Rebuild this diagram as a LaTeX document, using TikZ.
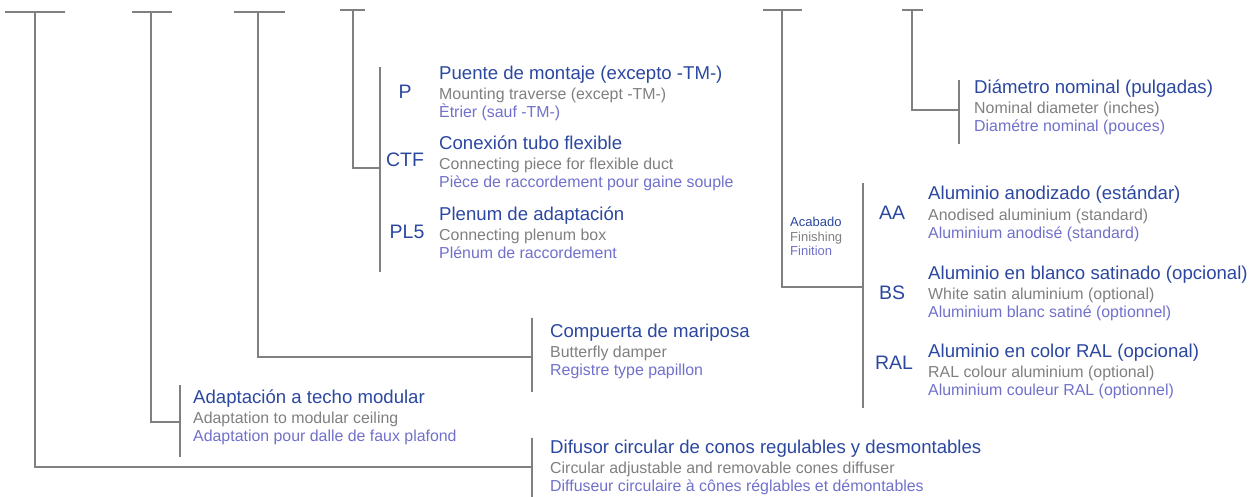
\documentclass[tikz,border=0pt]{standalone}
\usepackage{fontspec}
\setmainfont{Liberation Sans}
\usepackage{tikz}

\definecolor{titleblue}{RGB}{43,71,160}
\definecolor{engray}{RGB}{127,127,127}
\definecolor{frblue}{RGB}{112,112,204}
\definecolor{linegray}{RGB}{128,128,128}

\tikzset{
  ttl/.style={anchor=base west, inner sep=0pt, text=titleblue, font=\fontsize{18.6}{21}\selectfont},
  eng/.style={anchor=base west, inner sep=0pt, text=engray, font=\fontsize{15.9}{18}\selectfont},
  fra/.style={anchor=base west, inner sep=0pt, text=frblue, font=\fontsize{15.9}{18}\selectfont},
  code/.style={inner sep=0pt, text=titleblue, font=\fontsize{19.5}{22}\selectfont},
  small/.style={anchor=base west, inner sep=0pt, font=\fontsize{13}{15}\selectfont},
  tree/.style={draw=linegray, line width=1.3pt}
}

% name, position, spanish, english, french
\newcommand{\entry}[5]{%
  \node[ttl] (#1) at (#2) {#3};
  \node[eng] (#1-en) at ([yshift=-20pt]#1.base west) {#4};
  \node[fra] (#1-fr) at ([yshift=-38pt]#1.base west) {#5};}

\begin{document}
\begin{tikzpicture}[x=1pt,y=-1pt]
    \useasboundingbox (0,0) rectangle (1257,497);

    % tops of the code positions
    \coordinate (top1) at (35,12);
    \coordinate (top2) at (151,12);
    \coordinate (top3) at (258,12);
    \coordinate (top4) at (353,10);
    \coordinate (top5) at (782,10);
    \coordinate (top6) at (912,10);
    \draw[tree] (5,12) -- (65,12);
    \draw[tree] (132,12) -- (172,12);
    \draw[tree] (234,12) -- (285,12);
    \draw[tree] (340,10) -- (365,10);
    \draw[tree] (763,10) -- (802,10);
    \draw[tree] (902,10) -- (923,10);

    % brackets
    \coordinate (difbar) at (532,467);
    \coordinate (adabar) at (180,422);
    \coordinate (compbar) at (532,357);
    \coordinate (accbar) at (380,168);
    \coordinate (finbar) at (863,287);
    \coordinate (diambar) at (959,110);
    \draw[tree] (532,438) -- (532,497);
    \draw[tree] (180,385) -- (180,457);
    \draw[tree] (532,318) -- (532,392);
    \draw[tree] (380,67) -- (380,272);
    \draw[tree] (863,183) -- (863,408);
    \draw[tree] (959,80) -- (959,144);

    \draw[tree] (top1) |- (difbar);
    \draw[tree] (top2) |- (adabar);
    \draw[tree] (top3) |- (compbar);
    \draw[tree] (top4) |- (accbar);
    \draw[tree] (top5) |- (finbar);
    \draw[tree] (top6) |- (diambar);

    % codes
    \node[code] (cp) at (405,92) {P};
    \node[code] (cctf) at (405,160) {CTF};
    \node[code] (cpl) at (407,232) {PL5};
    \node[code] (caa) at (892,213) {AA};
    \node[code] (cbs) at (892,293) {BS};
    \node[code] (cral) at (894,363) {RAL};

    \entry{puente}{439,80}{Puente de montaje (excepto -TM-)}{Mounting traverse (except -TM-)}{Ètrier (sauf -TM-)}
    \entry{ctf}{439,150}{Conexión tubo flexible}{Connecting piece for flexible duct}{Pièce de raccordement pour gaine souple}
    \entry{plenum}{439,220}{Plenum de adaptación}{Connecting plenum box}{Plénum de raccordement}
    \entry{comp}{550,337}{Compuerta de mariposa}{Butterfly damper}{Registre type papillon}
    \entry{ada}{193,403}{Adaptación a techo modular}{Adaptation to modular ceiling}{Adaptation pour dalle de faux plafond}
    \entry{dif}{550,453}{Difusor circular de conos regulables y desmontables}{Circular adjustable and removable cones diffuser}{Diffuseur circulaire à cônes réglables et démontables}
    \entry{diam}{974,94}{Diámetro nominal (pulgadas)}{Nominal diameter (inches)}{Diamétre nominal (pouces)}
    \entry{aa}{928,200}{Aluminio anodizado (estándar)}{Anodised aluminium (standard)}{Aluminium anodisé (standard)}
    \entry{bs}{928,279}{Aluminio en blanco satinado (opcional)}{White satin aluminium (optional)}{Aluminium blanc satiné (optionnel)}
    \entry{ral}{928,357}{Aluminio en color RAL (opcional)}{RAL colour aluminium (optional)}{Aluminium couleur RAL (optionnel)}

    \node[small, text=titleblue] (acab) at (790,226) {Acabado};
    \node[small, text=engray] (acab-en) at (790,241) {Finishing};
    \node[small, text=frblue] (acab-fr) at (790,255) {Finition};
\end{tikzpicture}
\end{document}
